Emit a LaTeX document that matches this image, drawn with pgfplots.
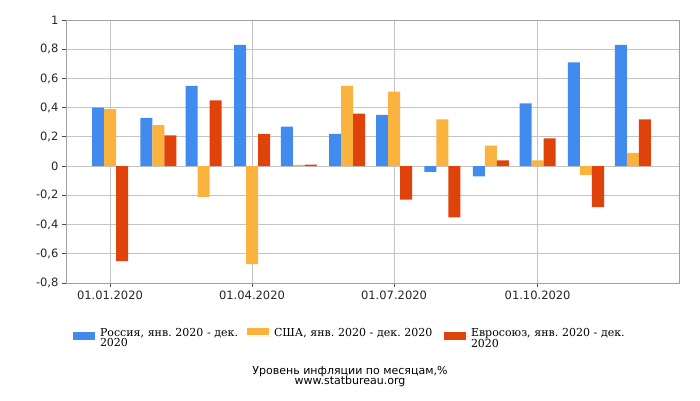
\documentclass[border=0pt]{standalone}
\usepackage{fontspec}
\setmainfont{DejaVu Sans}
\newfontfamily\legfont{DejaVu Serif}
\usepackage{pgfplots}
\usepackage{pgfplotstable}
\pgfplotsset{compat=1.18}
\definecolor{cru}{HTML}{428BEE}
\definecolor{cus}{HTML}{FBB340}
\definecolor{ceu}{HTML}{E0420C}
\definecolor{gridc}{HTML}{C4C4C4}
\definecolor{axc}{HTML}{A0A0A0}
\pgfplotstableread{
x ru us eu
0 0.40 0.39 -0.65
31 0.33 0.28 0.21
60 0.55 -0.21 0.45
91 0.83 -0.67 0.22
121 0.27 0.008 0.01
152 0.22 0.55 0.36
182 0.35 0.51 -0.23
213 -0.04 0.32 -0.35
244 -0.07 0.14 0.04
274 0.43 0.04 0.19
305 0.71 -0.06 -0.28
335 0.83 0.09 0.32
}\data
\begin{document}
\frenchspacing
\begin{tikzpicture}
\useasboundingbox (-66pt,-117pt) rectangle (634pt,283pt);
\begin{axis}[
  scale only axis, width=613pt, height=263pt,
  xmin=-28.2, xmax=364.6, ymin=-0.8, ymax=1,
  ybar=0pt, bar width=12pt,
  xtick={0,91,182,274},
  xticklabels={01.01.2020,01.04.2020,01.07.2020,01.10.2020},
  ytick={-0.8,-0.6,-0.4,-0.2,0,0.2,0.4,0.6,0.8,1},
  yticklabels={{-0,8},{-0,6},{-0,4},{-0,2},0,{0,2},{0,4},{0,6},{0,8},1},
  xmajorgrids, ymajorgrids,
  grid style={draw=gridc, line width=0.8pt},
  axis line style={draw=axc, line width=0.8pt},
  tick align=outside, xtick pos=bottom, ytick pos=left,
  major tick length=4pt,
  tick style={draw=black!70, line width=0.8pt},
  ticklabel style={font=\fontsize{11.5}{13}\selectfont, text=black!85},
  legend columns=3,
  legend style={draw=none, fill=none, at={(rel axis cs:0,0)}, anchor=north west,
    xshift=7pt, yshift=-43pt, inner sep=0pt, outer sep=0pt,
    font=\legfont\fontsize{11}{9}\selectfont\frenchspacing,
    cells={anchor=base west, align=left, inner sep=0pt}},
]
\addplot[fill=cru, draw=none, legend image code/.code={\fill[cru] (0pt,-4pt) rectangle (22pt,4pt); \path (0pt,0pt) -- (25pt,0pt);}] table[x=x,y=ru]{\data};
\addlegendentry[text width=145pt]{Россия, янв. 2020 - дек. 2020}
\addplot[fill=cus, draw=none, legend image code/.code={\fill[cus] (0pt,1pt) rectangle (22pt,8pt); \path (0pt,0pt) -- (25pt,0pt);}] table[x=x,y=us]{\data};
\addlegendentry[text width=168pt]{США, янв. 2020 - дек. 2020}
\addplot[fill=ceu, draw=none, legend image code/.code={\fill[ceu] (0pt,-4pt) rectangle (22pt,4pt); \path (0pt,0pt) -- (25pt,0pt);}] table[x=x,y=eu]{\data};
\addlegendentry[text width=165pt]{Евросоюз, янв. 2020 - дек. 2020}
\end{axis}
\node[anchor=base, font=\fontsize{11}{12}\selectfont] at (284pt,-91pt) {Уровень инфляции по месяцам,\%};
\node[anchor=base, font=\fontsize{11}{12}\selectfont] at (284pt,-101pt) {www.statbureau.org};
\end{tikzpicture}
\end{document}
